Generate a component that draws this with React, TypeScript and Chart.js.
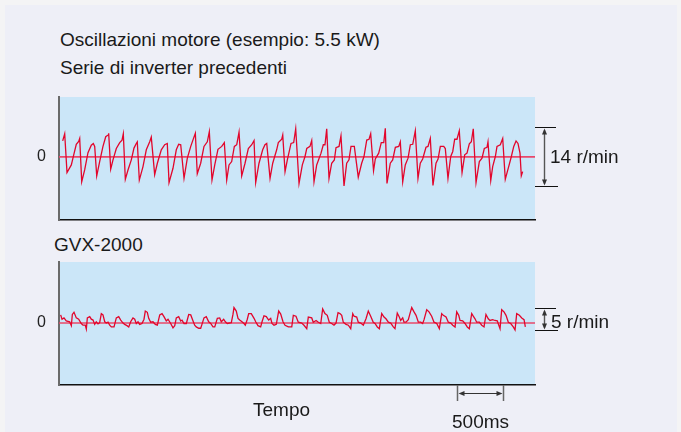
import React, { useEffect, useRef } from "react";
import { Chart, registerables } from "chart.js";

Chart.register(...registerables);

// ---------- data ----------
// time in ms, speed deviation in r/min
const topTime = [40, 62, 87, 134, 160, 188, 214, 225, 247, 279, 315, 351, 373, 388, 410, 442, 478, 508, 533, 540, 562, 587, 623, 660, 685, 699, 721, 750, 786, 815, 840, 851, 873, 913, 949, 986, 1003, 1040, 1069, 1112, 1149, 1177, 1196, 1239, 1275, 1301, 1323, 1359, 1395, 1432, 1467, 1482, 1503, 1540, 1576, 1612, 1634, 1663, 1693, 1728, 1769, 1797, 1823, 1848, 1877, 1906, 1932, 1957, 1986, 2022, 2058, 2095, 2120, 2138, 2174, 2214, 2239, 2258, 2294, 2323, 2366, 2384, 2421, 2432, 2457, 2482, 2522, 2551, 2573, 2609, 2645, 2674, 2693, 2728, 2747, 2772, 2801, 2848, 2873, 2891, 2910, 2935, 2964, 2993, 3011, 3044, 3065, 3098, 3127, 3152, 3174, 3210, 3253, 3290, 3315, 3345, 3370, 3388, 3419, 3438, 3475, 3503, 3530, 3547, 3565, 3601, 3627, 3656, 3693, 3710, 3736, 3764, 3794, 3819, 3845, 3873, 3902, 3927, 3953, 3989, 4011, 4036, 4065, 4098, 4120, 4145, 4182, 4199, 4228, 4258, 4280, 4301, 4326, 4351, 4381, 4410, 4435, 4460, 4482, 4503, 4533, 4569, 4598, 4623, 4652, 4663, 4693, 4714, 4743, 4761, 4797, 4823, 4851, 4888, 4917, 4943, 4968, 4989, 5011, 5025, 5040];
const topSpeed = [3.8, 5.5, -3.7, -1.9, 0.5, 3.0, 3.7, 4.4, -5.9, -3.1, 1.0, 2.8, 3.2, 2.5, -4.5, -1.1, 2.5, 4.8, 5.2, 5.6, -2.9, -0.7, 2.0, 3.4, 4.0, 5.5, -5.3, -3.1, -0.7, 2.1, 3.2, 3.6, -5.5, -2.3, 1.7, 3.6, 4.7, -4.2, -1.5, 1.7, 2.9, 3.2, -6.1, -2.7, 1.7, 3.0, 2.9, -5.1, -0.3, 2.5, 4.7, 5.6, -4.0, -1.5, 2.5, 3.6, 6.0, -5.5, -1.9, 1.8, 2.5, 3.4, -5.5, -1.9, -1.1, 2.5, 2.9, 5.9, -4.5, -1.5, 2.0, 2.9, 3.9, -6.1, -1.5, 1.7, 2.9, 3.2, -5.1, -1.5, 1.7, 3.4, 4.2, 5.2, -3.5, -0.7, 3.2, 3.4, 6.7, -6.3, -1.9, 0.1, 2.0, 2.5, 3.9, -5.9, -1.9, 0.9, 2.9, 2.9, 6.7, -5.1, -1.5, -0.7, 2.2, 2.5, 5.0, -6.9, -1.5, -0.7, 2.5, 2.5, -4.8, -1.5, 0.1, 4.0, 4.2, 5.5, -3.3, -0.5, 0.9, 3.4, 3.4, 6.8, -6.3, -1.5, -0.7, 2.3, 2.5, 3.6, -5.9, -1.9, -0.3, 2.9, 3.0, 6.2, -5.1, -1.5, -0.5, 2.3, 2.5, 4.4, -6.8, -1.5, -0.5, 2.5, 2.5, 2.0, -5.1, 0.1, 1.3, 4.2, 4.2, 6.2, -3.7, 0.5, 0.9, 3.1, 3.6, 6.7, -6.1, -1.1, -0.3, 2.0, 2.3, 3.6, -5.6, -2.3, 0.1, 2.5, 2.9, 4.4, -5.3, -2.3, 0.1, 2.5, 3.8, 3.2, 0.9, -4.5, -3.5];

const bottomTime = [18, 33, 54, 79, 116, 134, 145, 163, 188, 214, 242, 261, 286, 297, 308, 334, 351, 370, 388, 405, 424, 442, 460, 478, 497, 514, 533, 551, 569, 598, 623, 649, 671, 696, 714, 739, 758, 779, 804, 823, 840, 859, 877, 902, 924, 938, 960, 975, 997, 1022, 1047, 1069, 1095, 1120, 1141, 1166, 1185, 1214, 1239, 1258, 1275, 1301, 1323, 1337, 1359, 1384, 1410, 1432, 1457, 1475, 1492, 1519, 1540, 1554, 1576, 1601, 1627, 1649, 1674, 1693, 1721, 1747, 1764, 1790, 1808, 1829, 1873, 1891, 1902, 1927, 1946, 1964, 1989, 2011, 2025, 2047, 2062, 2090, 2120, 2138, 2163, 2192, 2207, 2228, 2253, 2279, 2301, 2315, 2337, 2362, 2388, 2410, 2435, 2457, 2493, 2530, 2547, 2576, 2601, 2638, 2663, 2693, 2710, 2747, 2764, 2794, 2819, 2845, 2866, 2891, 2916, 2938, 2964, 2989, 3011, 3033, 3054, 3073, 3090, 3120, 3145, 3171, 3193, 3207, 3236, 3253, 3280, 3308, 3337, 3362, 3388, 3416, 3435, 3460, 3482, 3508, 3533, 3554, 3580, 3606, 3634, 3652, 3677, 3699, 3714, 3736, 3750, 3772, 3797, 3815, 3834, 3859, 3881, 3906, 3932, 3953, 3968, 3997, 4022, 4051, 4076, 4106, 4134, 4160, 4177, 4207, 4232, 4258, 4280, 4305, 4323, 4345, 4359, 4388, 4413, 4438, 4460, 4486, 4503, 4522, 4540, 4569, 4595, 4620, 4641, 4666, 4685, 4714, 4739, 4764, 4794, 4812, 4837, 4859, 4884, 4910, 4938, 4957, 4975, 5004, 5030, 5055, 5069];
const bottomSpeed = [1.9, 0.9, 1.2, 0.5, 0.3, -0.6, 2.0, 2.5, 1.2, 0.9, -0.1, -0.5, -0.5, -1.4, 1.2, 1.5, 0.9, 0.7, -0.3, 0.3, -0.2, 0.1, 2.2, 1.9, 0.3, 0.0, 0.2, -0.5, -0.9, -0.9, 1.2, 1.5, 0.7, 0.0, -0.3, -0.6, -0.9, 0.3, 1.2, 0.9, -0.1, 0.3, -0.3, -0.1, 0.9, 2.8, 2.5, 1.1, 0.2, 0.3, -0.3, -0.5, 1.9, 2.2, 1.5, 0.5, 0.9, -0.1, -1.1, -0.6, 1.2, 1.5, 0.5, 0.7, -0.1, -0.1, 2.0, 1.9, 0.5, -0.5, -0.9, -1.2, -1.2, -0.3, 1.2, 1.5, 0.3, -0.1, -0.9, -0.9, 1.1, 1.2, 0.3, 0.9, 0.3, -0.1, 0.1, 2.0, 3.6, 2.8, 1.1, 0.7, 0.3, -0.1, -0.5, 0.9, 2.2, 2.2, 1.1, 0.3, -0.6, -0.9, 0.3, 1.7, 1.5, 0.7, 1.1, -0.1, -0.5, -0.3, 2.8, 2.1, 0.3, -0.5, -0.9, -0.9, 1.8, 1.6, 0.2, 0.0, -0.5, -1.3, 1.4, 1.2, 0.2, 0.6, 0.2, -0.1, 3.3, 2.2, 1.8, 0.2, -0.1, -0.5, 0.0, 2.4, 2.2, 1.8, 0.2, -0.3, -0.5, -1.3, 2.2, 1.6, 1.4, 0.2, 0.0, -0.5, 1.0, 2.8, 1.6, 0.2, -0.1, -0.9, -1.3, 2.2, 1.4, 1.0, 0.2, 0.0, -0.9, -1.3, 2.3, 1.4, 0.6, 1.2, 0.2, 0.2, 0.8, 2.2, 3.6, 2.6, 1.8, 0.2, 0.2, -0.1, 0.8, 3.1, 2.6, 1.6, 0.2, -0.1, -1.3, 2.2, 1.8, 1.4, 0.2, 0.0, -0.5, -0.9, 2.6, 1.8, 0.6, 0.5, -0.1, -0.9, -1.3, 2.2, 1.6, 1.0, 0.2, 0.2, -0.5, -0.9, 2.0, 1.0, 0.6, 0.8, 0.6, 0.5, -1.3, 3.1, 2.6, 1.8, 0.2, -0.1, -0.9, -1.6, 2.2, 1.8, 1.2, 0.8, -0.9];

const timeMax = 5174; // ms spanned by the plot
const topRange = [-15, 14.25];
const bottomRange = [-14.4, 14.2];
const topBracket = [-7, 7]; // 14 r/min
const bottomBracket = [-1.5, 3.5]; // 5 r/min
const timeBar = [4326, 4826]; // 500 ms

const FONT = "'Liberation Sans', Arial, Helvetica, sans-serif";
const PANEL_BG = "#cbe6f8";
const LINE_RED = "#e2062c";
const ZERO_RED = "#e8486a";

function arrowHead(ctx: CanvasRenderingContext2D, x: number, y: number, dir: string) {
  ctx.beginPath();
  if (dir === "up") {
    ctx.moveTo(x, y);
    ctx.lineTo(x - 2.5, y + 6);
    ctx.lineTo(x + 2.5, y + 6);
  } else if (dir === "down") {
    ctx.moveTo(x, y);
    ctx.lineTo(x - 2.5, y - 6);
    ctx.lineTo(x + 2.5, y - 6);
  } else if (dir === "left") {
    ctx.moveTo(x, y);
    ctx.lineTo(x + 6, y - 2.5);
    ctx.lineTo(x + 6, y + 2.5);
  } else {
    ctx.moveTo(x, y);
    ctx.lineTo(x - 6, y - 2.5);
    ctx.lineTo(x - 6, y + 2.5);
  }
  ctx.closePath();
  ctx.fill();
}

function makePlugin(bracket: number[], showTimeBar: boolean) {
  return {
    id: "decor",
    beforeDraw(chart: any) {
      const { ctx, chartArea: a } = chart;
      ctx.save();
      ctx.fillStyle = PANEL_BG;
      ctx.fillRect(a.left, a.top, a.right - a.left, a.bottom - a.top);
      ctx.restore();
    },
    beforeDatasetsDraw(chart: any) {
      const { ctx, chartArea: a, scales } = chart;
      const y0 = scales.y.getPixelForValue(0);
      ctx.save();
      ctx.strokeStyle = ZERO_RED;
      ctx.lineWidth = 1.6;
      ctx.beginPath();
      ctx.moveTo(a.left, y0);
      ctx.lineTo(a.right, y0);
      ctx.stroke();
      ctx.restore();
    },
    afterDraw(chart: any) {
      const { ctx, chartArea: a, scales } = chart;
      ctx.save();
      // vertical bracket
      const yt = Math.round(scales.y.getPixelForValue(bracket[1])) + 0.5;
      const yb = Math.round(scales.y.getPixelForValue(bracket[0])) + 0.5;
      ctx.strokeStyle = "#111";
      ctx.lineWidth = 1.2;
      ctx.beginPath();
      ctx.moveTo(a.right, yt);
      ctx.lineTo(a.right + 21, yt);
      ctx.moveTo(a.right, yb);
      ctx.lineTo(a.right + 23, yb);
      ctx.stroke();
      const xa = a.right + 9.5;
      ctx.strokeStyle = "#555";
      ctx.fillStyle = "#333";
      ctx.lineWidth = 1.4;
      ctx.beginPath();
      ctx.moveTo(xa, yt + 3);
      ctx.lineTo(xa, yb - 3);
      ctx.stroke();
      arrowHead(ctx, xa, yt + 1, "up");
      arrowHead(ctx, xa, yb - 1, "down");

      if (showTimeBar) {
        const x1 = Math.round(scales.x.getPixelForValue(timeBar[0])) + 0.5;
        const x2 = Math.round(scales.x.getPixelForValue(timeBar[1])) + 0.5;
        const top = a.bottom;
        ctx.strokeStyle = "#666";
        ctx.lineWidth = 1.5;
        ctx.beginPath();
        ctx.moveTo(x1, top);
        ctx.lineTo(x1, top + 16);
        ctx.moveTo(x2, top);
        ctx.lineTo(x2, top + 16);
        ctx.stroke();
        const ym = top + 8.5;
        ctx.strokeStyle = "#333";
        ctx.lineWidth = 1.2;
        ctx.beginPath();
        ctx.moveTo(x1 + 3, ym);
        ctx.lineTo(x2 - 3, ym);
        ctx.stroke();
        arrowHead(ctx, x1 + 1, ym, "left");
        arrowHead(ctx, x2 - 1, ym, "right");
      }
      ctx.restore();
    },
  };
}

function makeConfig(times: number[], speeds: number[], range: number[], bracket: number[], bottomPad: number, showTimeBar: boolean): any {
  const pts = times.map((t, i) => ({ x: t, y: speeds[i] }));
  return {
    type: "line",
    data: {
      datasets: [
        {
          data: pts,
          borderColor: LINE_RED,
          borderWidth: 1.3,
          pointRadius: 0,
          pointHoverRadius: 0,
          tension: 0,
          fill: false,
        },
      ],
    },
    options: {
      animation: false,
      responsive: false,
      maintainAspectRatio: false,
      events: [],
      layout: { autoPadding: false, padding: { left: 0, top: 7, right: 146, bottom: bottomPad } },
      plugins: { legend: { display: false }, tooltip: { enabled: false }, title: { display: false } },
      scales: {
        x: {
          type: "linear",
          min: 0,
          max: timeMax,
          ticks: { display: false },
          grid: { display: false, drawTicks: false },
          border: { display: true, color: "#111", width: 1.6 },
          afterFit: (s: any) => {
            s.height = 0;
            s.paddingLeft = 0;
            s.paddingRight = 0;
          },
        },
        y: {
          type: "linear",
          min: range[0],
          max: range[1],
          afterBuildTicks: (s: any) => {
            s.ticks = [{ value: 0 }];
          },
          ticks: { color: "#222", font: { size: 16, family: FONT }, padding: 13 },
          grid: { display: false, drawTicks: false },
          border: { display: true, color: "#6a6a6a", width: 2 },
          afterFit: (s: any) => {
            s.width = 59;
            s.paddingTop = 0;
            s.paddingBottom = 0;
          },
        },
      },
    },
    plugins: [makePlugin(bracket, showTimeBar)],
  };
}

const textStyle = (left: number, top: number, size = 19): React.CSSProperties => ({
  position: "absolute",
  left,
  top,
  fontFamily: FONT,
  fontSize: size,
  lineHeight: `${size}px`,
  color: "#1a1a1a",
  whiteSpace: "nowrap",
});

export default function App() {
  const topRef = useRef<HTMLCanvasElement>(null);
  const botRef = useRef<HTMLCanvasElement>(null);

  useEffect(() => {
    const c1 = new Chart(topRef.current as HTMLCanvasElement, makeConfig(topTime, topSpeed, topRange, topBracket, 10, false));
    const c2 = new Chart(botRef.current as HTMLCanvasElement, makeConfig(bottomTime, bottomSpeed, bottomRange, bottomBracket, 47, true));
    return () => {
      c1.destroy();
      c2.destroy();
    };
  }, []);

  return (
    <div style={{ position: "absolute", left: 0, top: 0, width: 681, height: 432, background: "#f4f4f5", overflow: "hidden" }}>
      <div style={{ position: "absolute", left: 5, top: 5, width: 672, height: 427, background: "#eeeff7" }} />
      <div style={textStyle(60, 30)}>Oscillazioni motore (esempio: 5.5 kW)</div>
      <div style={textStyle(60, 58)}>Serie di inverter precedenti</div>
      <canvas ref={topRef} width={681} height={140} style={{ position: "absolute", left: 0, top: 90, width: 681, height: 140 }} />
      <div style={textStyle(54, 235)}>GVX-2000</div>
      <canvas ref={botRef} width={681} height={177} style={{ position: "absolute", left: 0, top: 255, width: 681, height: 177 }} />
      <div style={textStyle(550, 147)}>14 r/min</div>
      <div style={textStyle(551, 312)}>5 r/min</div>
      <div style={textStyle(253, 400)}>Tempo</div>
      <div style={textStyle(452, 412)}>500ms</div>
    </div>
  );
}
